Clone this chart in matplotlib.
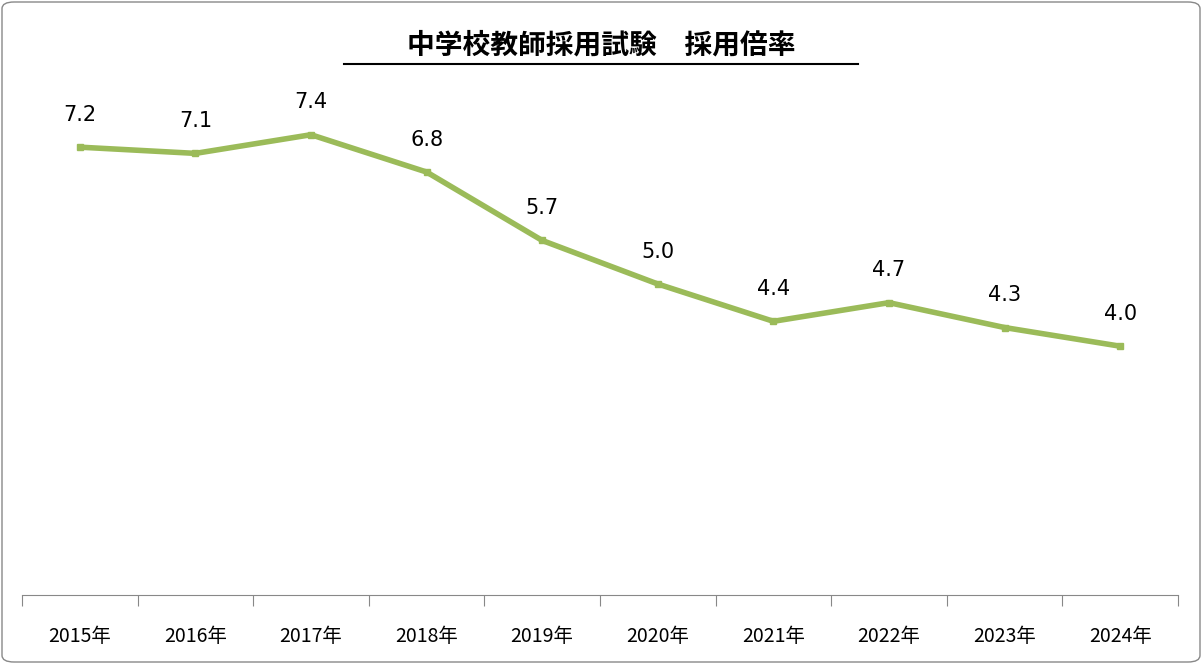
import matplotlib.pyplot as plt
from matplotlib.patches import FancyBboxPatch

plt.rcParams['font.family'] = ['Noto Sans CJK JP']

years = ['2015年', '2016年', '2017年', '2018年', '2019年',
         '2020年', '2021年', '2022年', '2023年', '2024年']
ratios = [7.2, 7.1, 7.4, 6.8, 5.7, 5.0, 4.4, 4.7, 4.3, 4.0]

W, H = 1202, 664
fig = plt.figure(figsize=(W / 100, H / 100), dpi=100)
fig.patches.append(FancyBboxPatch((2 / W, 2 / H), 1 - 4 / W, 1 - 4 / H,
                                  boxstyle='round,pad=0,rounding_size=0.01',
                                  transform=fig.transFigure, fill=False,
                                  edgecolor='#888888', lw=1))

ax = fig.add_axes([22 / W, 69 / H, 1156 / W, 8 * 62.2 / H])
x = range(len(years))
ax.plot(x, ratios, color='#9BBB59', lw=4, marker='s', markersize=5,
        solid_capstyle='round')
for i, v in enumerate(ratios):
    ax.annotate(f'{v:.1f}', (i, v), xytext=(0, 16), textcoords='offset points',
                ha='center', va='bottom', fontsize=15, family='DejaVu Sans')

ax.set_xlim(-0.5, len(years) - 0.5)
ax.set_ylim(0, 8)
for s in ['top', 'right', 'left']:
    ax.spines[s].set_visible(False)
ax.spines['bottom'].set_color('#888888')
ax.set_yticks([])
ax.set_xticks([i + 0.5 for i in range(-1, len(years))], minor=False)
ax.set_xticklabels([])
ax.tick_params(axis='x', length=8, color='#888888', direction='out')
ax.set_xticks(list(x), minor=True)
ax.set_xticklabels(years, minor=True, fontsize=14)
ax.tick_params(axis='x', which='minor', length=0, pad=22)

fig.text(0.5, 1 - 45 / H, '中学校教師採用試験　採用倍率', ha='center', va='center',
         fontsize=20, fontweight='bold')
fig.add_artist(plt.Line2D([344 / W, 858 / W], [1 - 64 / H] * 2, color='black', lw=1.5))

fig.savefig('out.png', dpi=100)
